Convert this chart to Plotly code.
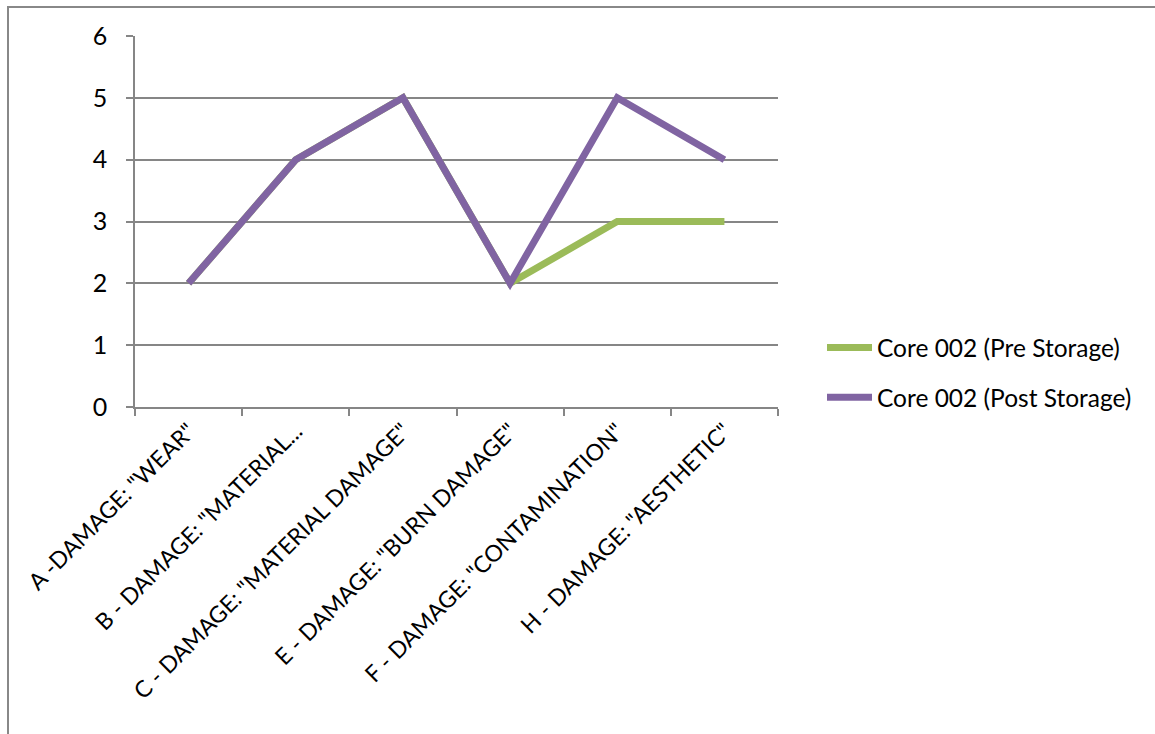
import plotly.graph_objects as go

categories = ['A -DAMAGE: "WEAR"', 'B - DAMAGE: "MATERIAL...', 'C - DAMAGE: "MATERIAL DAMAGE"',
              'E - DAMAGE: "BURN DAMAGE"', 'F - DAMAGE: "CONTAMINATION"', 'H - DAMAGE: "AESTHETIC"']
pre_storage = [2, 4, 5, 2, 3, 3]
post_storage = [2, 4, 5, 2, 5, 4]
y_ticks = [0, 1, 2, 3, 4, 5, 6]

FONT = "Lato, Carlito, Calibri, sans-serif"
GRID = "#868686"

fig = go.Figure()
fig.add_trace(go.Scatter(x=categories, y=pre_storage, mode="lines", name="Core 002 (Pre Storage)",
                         line=dict(color="#9BBB59", width=7), legendgroup="a"))
fig.add_trace(go.Scatter(x=categories, y=post_storage, mode="lines", name="Core 002 (Post Storage)",
                         line=dict(color="#8064A2", width=7), legendgroup="b"))

L, R, T, B = 135, 778, 36, 407
W, H = 1155, 734
pw, ph = R - L, B - T

def px_x(x):
    return (x - L) / pw

def px_y(y):
    return (B - y) / ph

fig.update_layout(
    width=W, height=H,
    margin=dict(l=L, r=W - R, t=T, b=H - B, pad=0),
    paper_bgcolor="white", plot_bgcolor="white",
    font=dict(family=FONT, size=24, color="black"),
    showlegend=True,
    legend=dict(x=px_x(822), y=px_y(325), xanchor="left", yanchor="top",
                font=dict(size=24.5), tracegroupgap=15, traceorder="grouped",
                itemwidth=45, bgcolor="rgba(0,0,0,0)"),
    xaxis=dict(type="category", range=[-0.5, 5.5], tickangle=-45, showgrid=False,
               showline=True, linecolor=GRID, linewidth=1.5,
               ticks="outside", ticklen=7, tickcolor=GRID, tickwidth=1.5,
               tickson="boundaries", tickfont=dict(size=23), automargin=False),
    yaxis=dict(range=[0, 6], tickvals=y_ticks, showgrid=True, gridcolor=GRID, gridwidth=1.5,
               showline=True, linecolor=GRID, linewidth=1.5, zeroline=False,
               ticks="outside", ticklen=7, tickcolor=GRID, tickwidth=1.5,
               ticklabelstandoff=14,
               tickfont=dict(size=25), automargin=False),
    shapes=[dict(type="rect", xref="paper", yref="paper",
                 x0=px_x(8), x1=px_x(1170), y0=px_y(745), y1=px_y(7),
                 line=dict(color="#888888", width=2), fillcolor="rgba(0,0,0,0)", layer="below")],
)

fig.write_html("out.html")
